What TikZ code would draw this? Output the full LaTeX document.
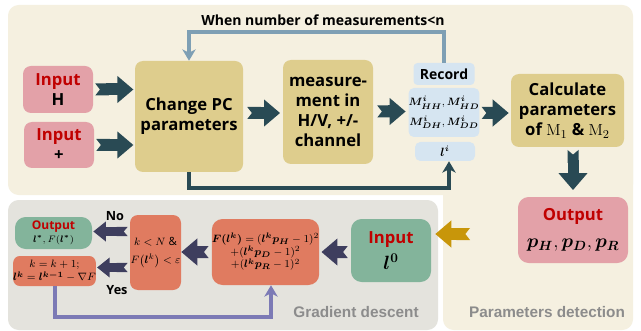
\documentclass[tikz,border=0pt]{standalone}
\usepackage[no-math]{fontspec}
\setmainfont{Open Sans}
\newfontfamily\labfont{Liberation Sans}
\usepackage{amsmath,bm}
\usetikzlibrary{arrows.meta,calc}
\definecolor{bgbeige}{RGB}{245,240,224}
\definecolor{bggrey}{RGB}{228,227,221}
\definecolor{pinkbox}{RGB}{227,161,168}
\definecolor{khaki}{RGB}{222,205,141}
\definecolor{lblue}{RGB}{214,229,241}
\definecolor{dteal}{RGB}{41,74,84}
\definecolor{steel}{RGB}{126,159,180}
\definecolor{orbox}{RGB}{224,123,96}
\definecolor{grbox}{RGB}{131,180,155}
\definecolor{navy}{RGB}{62,62,94}
\definecolor{purp}{RGB}{124,122,181}
\definecolor{gold}{RGB}{200,150,10}
\definecolor{redtxt}{RGB}{192,0,0}
\definecolor{greytxt}{RGB}{140,140,140}
\tikzset{
  bx/.style={rounded corners=6pt, inner sep=0pt, align=center,
    font=\bfseries\fontsize{12.5}{15}\selectfont},
  fatA/.style={line width=9pt, shorten <=1.5pt, shorten >=1pt,
    {Triangle Cap[reversed,length=3.5pt]}-{Triangle[width=19.5pt,length=12pt]}},
  fatB/.style={line width=7pt, shorten <=1.5pt, shorten >=1pt,
    {Triangle Cap[reversed,length=3pt]}-{Triangle[width=14.5pt,length=9.5pt]}},
  fatD/.style={line width=8.25pt, shorten <=2pt, shorten >=5pt,
    {Triangle Cap[reversed,length=3.5pt]}-{Triangle[width=21pt,length=12.75pt]}},
  fbline/.style={line width=3pt, -{Stealth[width=10pt,length=8.5pt,inset=2.5pt]}},
  grlab/.style={text=greytxt, font=\labfont\bfseries\fontsize{11.5}{13}\selectfont},
  txtlab/.style={font=\bfseries\fontsize{10.5}{12}\selectfont}
}
\begin{document}
\begin{tikzpicture}[x=0.75pt,y=-0.75pt]
\useasboundingbox (0,0) rectangle (641,331);
\fill[white] (0,0) rectangle (641,331);
% backgrounds
\fill[bgbeige, rounded corners=8pt] (8,5) rectangle (633,195);
\fill[bgbeige, rounded corners=8pt] (443,30) rectangle (633,330);
\fill[bggrey, rounded corners=8pt] (8,200) rectangle (438,330);

% nodes top
\node[bx, fill=pinkbox, minimum width=52.5pt, minimum height=35.25pt] (inH) at (58,89.5)
  {{\color{redtxt}Input}\\H};
\node[bx, fill=pinkbox, minimum width=52.5pt, minimum height=34.5pt] (inP) at (59,145)
  {{\color{redtxt}Input}\\+};
\node[bx, fill=khaki, minimum width=81pt, minimum height=83.25pt] (chg) at (189,116.5)
  {Change PC\\parameters};
\node[bx, fill=khaki, minimum width=67.5pt, minimum height=78pt] (meas) at (328,112)
  {measure-\\ment in\\H/V, +/-\\channel};
\node[bx, fill=lblue, rounded corners=3pt, minimum width=45.75pt, minimum height=16.5pt,
  font=\bfseries\fontsize{10.5}{12}\selectfont] (rec) at (444,74) {Record};
\node[bx, fill=lblue, rounded corners=4pt, minimum width=45pt, minimum height=36.75pt,
  font=\fontsize{8.3}{13}\selectfont] (mat) at (444,112.5)
  {$\bm{M^{i}_{HH}},\bm{M^{i}_{HD}}$\\[1.5pt]$\bm{M^{i}_{DH}},\bm{M^{i}_{DD}}$};
\node[bx, fill=lblue, rounded corners=4pt, minimum width=45pt, minimum height=14.25pt,
  font=\fontsize{9}{11}\selectfont] (li) at (445,151.5) {$\bm{l^{i}}$};
\node[bx, fill=khaki, minimum width=84.75pt, minimum height=54.75pt] (calc) at (567.5,110.5)
  {Calculate\\parameters\\of $\mathrm{M}_1$ \& $\mathrm{M}_2$};
\node[bx, fill=pinkbox, rounded corners=8pt, minimum width=82.5pt, minimum height=49.5pt] (outp) at (573,230)
  {{\color{redtxt}Output}\\[5pt]{\fontsize{14}{16}\selectfont$\bm{p}_{\bm{H}},\bm{p}_{\bm{D}},\bm{p}_{\bm{R}}$}};

% bottom nodes
\node[bx, fill=grbox, rounded corners=8pt, minimum width=60pt, minimum height=47.25pt] (l0) at (391,250.5)
  {{\color{redtxt}Input}\\[4pt]{\fontsize{14}{16}\selectfont$\bm{l^{0}}$}};
\node[bx, fill=orbox, rounded corners=8pt, minimum width=74.25pt, minimum height=49.5pt,
  font=\fontsize{8.3}{9.5}\selectfont] (fbox) at (265.5,252)
  {$\bm{F(l^{k})}=(\bm{l^{k}p_{H}}-1)^2$\\$+(\bm{l^{k}p_{D}}-1)^2$\\$+(\bm{l^{k}p_{R}}-1)^2$};
\node[bx, fill=orbox, rounded corners=6pt, minimum width=38.25pt, minimum height=56.25pt,
  font=\fontsize{8.5}{10.5}\selectfont] (kbox) at (155.5,252.5)
  {$k<N$ \&\\[3pt]$F\bigl(\bm{l}^{k}\bigr)<\varepsilon$};
\node[bx, fill=grbox, rounded corners=8pt, minimum width=57.75pt, minimum height=24pt,
  font=\fontsize{7.5}{9.5}\selectfont] (outl) at (53.5,233)
  {{\color{redtxt}\bfseries\fontsize{9}{10}\selectfont Output}\\$\bm{l^{*}},F(\bm{l^{*}})$};
\node[bx, fill=orbox, rounded corners=5pt, minimum width=57.75pt, minimum height=22.5pt,
  font=\fontsize{8.5}{10}\selectfont] (kk) at (54.5,271)
  {$k=k+1;$\\$\bm{l^{k}}=\bm{l^{k-1}}-\nabla F$};

% labels
\node[txtlab] (wn) at (323,20) {When number of measurements<n};
\node[font=\bfseries\fontsize{9.5}{11}\selectfont] (no) at (115,216) {No};
\node[font=\bfseries\fontsize{9.5}{11}\selectfont] (yes) at (117,290) {Yes};
\node[grlab] (gd) at (356,312) {Gradient descent};
\node[grlab] (pd) at (547,312) {Parameters detection};

% connecting lines
\coordinate (fbtop) at (444,32);
\draw[fbline, steel] (rec.north) -- (fbtop) -| (chg.north);
\coordinate (tb) at (449,188);
\draw[fbline, dteal, line width=2.6pt] (chg.south) |- (tb) -- (tb |- li.south);
\coordinate (pb) at (271,317);
\draw[fbline, purp] (kk.south) |- (pb) -- (pb |- fbox.south);

% fat arrows
\draw[fatA, dteal] (inH.east) -- (inH.east -| chg.west);
\draw[fatA, dteal] (inP.east) -- (inP.east -| chg.west);
\draw[fatA, dteal, shorten <=3pt, shorten >=2pt] (chg.east |- 0,113) -- (meas.west |- 0,113);
\draw[fatA, dteal, shorten <=3pt, shorten >=2pt] (meas.east |- 0,111.5) -- (mat.west |- 0,111.5);
\draw[fatA, dteal, shorten <=1.5pt, shorten >=1.5pt] (mat.east |- 0,113) -- (calc.west |- 0,113);
\draw[fatD, dteal] (outp.north |- calc.south) -- (outp.north);
\coordinate (gs) at (470,234);
\draw[fatA, gold, shorten <=0pt, shorten >=3pt] (gs) -- (gs -| l0.east);
\draw[fatA, navy, shorten <=2.25pt, shorten >=1.5pt] (l0.west |- 0,252) -- (fbox.east |- 0,252);
\draw[fatA, navy, shorten <=2.25pt, shorten >=0pt] (fbox.west |- 0,252) -- (kbox.east |- 0,252);
\draw[fatB, navy, shorten <=1.5pt, shorten >=0.75pt] (kbox.west |- 0,231.5) -- (outl.east |- 0,231.5);
\draw[fatB, navy, shorten <=1.5pt, shorten >=0.75pt] (kbox.west |- 0,267.5) -- (kk.east |- 0,267.5);
\end{tikzpicture}
\end{document}
